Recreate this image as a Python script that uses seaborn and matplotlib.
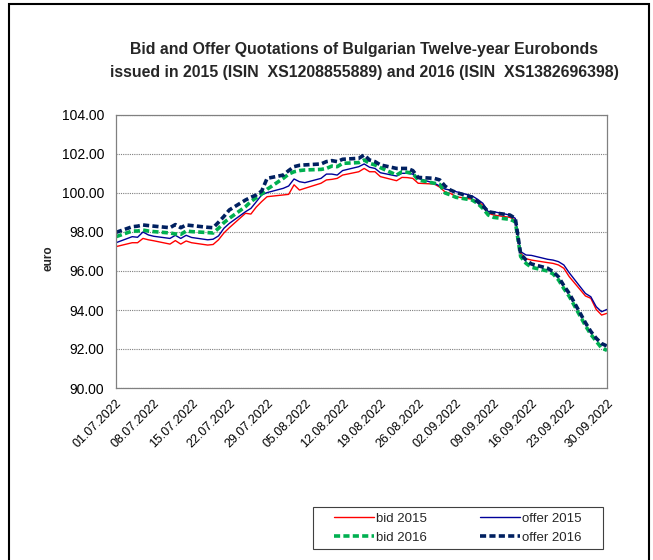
import pandas as pd
import matplotlib
matplotlib.use("Agg")
import matplotlib.pyplot as plt
import matplotlib.dates as mdates
from matplotlib.patches import Rectangle
import seaborn as sns

# Quotation dates: working days 01.07.2022 - 30.09.2022
dates = pd.bdate_range("2022-07-01", "2022-09-30")
tick_dates = pd.date_range("2022-07-01", "2022-09-30", freq="7D")

# euro
bid_2015 = [97.25,
            97.45, 97.45, 97.67, 97.60, 97.55,
            97.38, 97.56, 97.38, 97.54, 97.45,
            97.33, 97.36, 97.60, 97.95, 98.22,
            98.96, 98.92, 99.28, 99.56, 99.81,
            99.90, 99.93, 100.42, 100.15, 100.24,
            100.50, 100.67, 100.70, 100.75, 100.92,
            101.09, 101.26, 101.09, 101.09, 100.84,
            100.63, 100.80, 100.79, 100.75, 100.50,
            100.46, 100.30, 100.05, 99.98, 99.81,
            99.68, 99.56, 99.38, 98.96, 98.87,
            98.75, 98.62, 96.91, 96.63, 96.56,
            96.43, 96.39, 96.31, 96.14, 95.71,
            94.72, 94.60, 94.03, 93.74, 93.83]
offer_2015 = [97.45,
              97.76, 97.73, 98.00, 97.85, 97.78,
              97.67, 97.83, 97.67, 97.83, 97.72,
              97.60, 97.63, 97.80, 98.19, 98.44,
              99.04, 99.21, 99.55, 99.90, 100.02,
              100.24, 100.36, 100.72, 100.58, 100.53,
              100.75, 100.97, 100.97, 100.92, 101.15,
              101.35, 101.49, 101.32, 101.26, 101.04,
              100.87, 101.01, 101.01, 100.97, 100.75,
              100.50, 100.36, 100.20, 100.15, 100.07,
              99.85, 99.68, 99.47, 99.04, 99.04,
              98.87, 98.70, 96.99, 96.82, 96.80,
              96.60, 96.56, 96.48, 96.31, 95.91,
              94.85, 94.68, 94.17, 93.91, 94.03]
bid_2016 = [97.76,
            98.05, 98.05, 98.10, 98.05, 98.02,
            97.95, 97.90, 97.88, 98.05, 98.02,
            97.97, 97.95, 98.19, 98.48, 98.70,
            99.30, 99.56, 99.76, 99.95, 100.19,
            100.75, 100.97, 101.09, 101.15, 101.18,
            101.21, 101.26, 101.38, 101.35, 101.52,
            101.56, 101.69, 101.52, 101.44, 101.30,
            100.92, 101.09, 101.06, 101.01, 100.67,
            100.50, 100.44, 100.00, 99.90, 99.78,
            99.64, 99.47, 99.21, 98.87, 98.75,
            98.65, 98.53, 96.74, 96.39, 96.19,
            96.00, 95.85, 95.55, 95.10, 94.70,
            93.20, 92.75, 92.40, 92.05, 91.93]
offer_2016 = [97.98,
              98.27, 98.30, 98.36, 98.33, 98.30,
              98.22, 98.38, 98.22, 98.36, 98.33,
              98.24, 98.22, 98.50, 98.80, 99.13,
              99.64, 99.78, 99.90, 100.10, 100.75,
              100.92, 101.15, 101.35, 101.42, 101.44,
              101.49, 101.61, 101.66, 101.61, 101.73,
              101.78, 101.95, 101.69, 101.61, 101.44,
              101.26, 101.26, 101.26, 101.15, 100.80,
              100.75, 100.67, 100.35, 100.15, 100.03,
              99.78, 99.56, 99.33, 99.04, 98.99,
              98.87, 98.70, 96.87, 96.56, 96.36,
              96.14, 95.97, 95.70, 95.25, 94.85,
              93.35, 92.90, 92.55, 92.28, 92.15]

names = ["bid 2015", "offer 2015", "bid 2016", "offer 2016"]
values = [bid_2015, offer_2015, bid_2016, offer_2016]
colors = ["#ff0000", "#000099", "#00b050", "#002060"]
widths = [1.0, 1.0, 2.6, 2.6]
styles = ["-", "-", (0, (1.7, 0.9)), (0, (1.7, 0.9))]

sns.set_theme(style="white")
plt.rcParams["font.family"] = ["Liberation Sans", "DejaVu Sans"]

fig = plt.figure(figsize=(6.53, 5.6), dpi=100)
ax = fig.add_axes([116 / 653, 1 - 388 / 560, (607 - 116) / 653, (388 - 115) / 560])

for name, vals, c, lw, ls in zip(names, values, colors, widths, styles):
    sns.lineplot(x=dates, y=vals, ax=ax, color=c, linewidth=lw, linestyle=ls,
                 label=name, legend=False)

ax.set_xlabel("")
ax.set_ylabel("")
ax.set_ylim(90, 104)
ax.set_yticks(range(90, 105, 2))
ax.yaxis.set_major_formatter(plt.FormatStrFormatter("%.2f"))
ax.set_xlim(dates[0], dates[-1])
ax.set_xticks(mdates.date2num(tick_dates))
ax.xaxis.set_major_formatter(mdates.DateFormatter("%d.%m.%Y"))
plt.setp(ax.get_xticklabels(), rotation=45, ha="right", rotation_mode="anchor")

ax.grid(axis="y", color="#7f7f7f", linestyle=(0, (1, 1)), linewidth=0.8)
ax.set_axisbelow(True)
for sp in ax.spines.values():
    sp.set_color("#808080")
    sp.set_linewidth(0.9)
ax.tick_params(direction="out", length=4, width=0.9, color="#808080",
               labelcolor="black")
ax.tick_params(axis="y", labelsize=10, pad=4.5)
ax.tick_params(axis="x", labelsize=9, pad=3)

fig.text(48 / 653, 1 - 258 / 560, "euro", rotation=90, ha="center", va="center",
         fontsize=8.5, fontweight="bold")

fig.text(364 / 653, 1 - 61 / 560,
         "Bid and Offer Quotations of Bulgarian Twelve-year Eurobonds\n"
         "issued in 2015 (ISIN  XS1208855889) and 2016 (ISIN  XS1382696398)",
         ha="center", va="center", fontsize=11.4, fontweight="bold", linespacing=1.6,
         family=["Liberation Sans Narrow", "Liberation Sans", "DejaVu Sans"])

# legend: bid 2015 / offer 2015 on first row, bid 2016 / offer 2016 on second
lines = ax.get_lines()
order = [0, 2, 1, 3]
fig.legend([lines[i] for i in order], [names[i] for i in order], ncol=2,
           loc="center", bbox_to_anchor=(458 / 653, 1 - 528 / 560), frameon=False,
           fontsize=9.5, handlelength=3.0, handletextpad=0.2, columnspacing=4.0,
           labelspacing=0.5)
fig.patches.append(Rectangle((313 / 653, 1 - 549 / 560), 290 / 653, 42 / 560,
                             transform=fig.transFigure, fill=False,
                             edgecolor="#404040", linewidth=0.8))

# outer frame of the picture
fig.patches.append(Rectangle((8.5 / 653, -0.05), 640 / 653, 1.05 - 3.5 / 560,
                             transform=fig.transFigure, fill=False,
                             edgecolor="black", linewidth=1.5))

fig.savefig("out.png", dpi=100)
